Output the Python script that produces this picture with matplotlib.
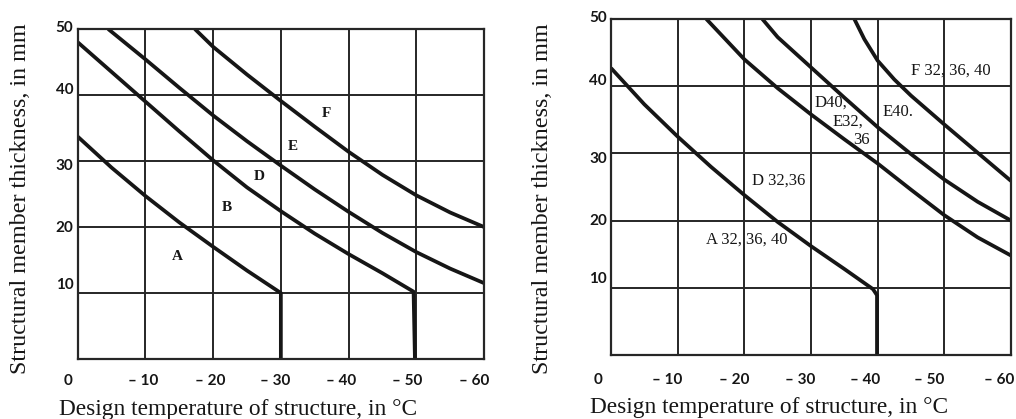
import matplotlib
matplotlib.use("Agg")
import matplotlib.pyplot as plt
from matplotlib.transforms import ScaledTranslation

# ---------------- data ----------------
x_ticks = [0, -10, -20, -30, -40, -50, -60]
x_tick_labels = ["0", "– 10", "– 20", "– 30", "– 40", "– 50", "– 60"]
y_ticks = [10, 20, 30, 40, 50]
y_tick_labels = ["10", "20", "30", "40", "50"]

# left panel curves (temperature, thickness)
left_A_x = [0, -5, -10, -15, -20, -25, -30, -30]
left_A_y = [33.7, 29.0, 24.7, 20.7, 17.0, 13.4, 10.0, 0]
left_B_x = [0, -5, -10, -15, -20, -25, -30, -35, -40, -45, -49.6, -49.8]
left_B_y = [48.0, 43.5, 39.0, 34.5, 30.1, 26.0, 22.4, 19.0, 15.9, 13.0, 10.2, 0]
left_D_x = [-4.5, -10, -15, -20, -25, -30, -35, -40, -45, -50, -55, -60]
left_D_y = [50, 45.4, 41.1, 36.9, 33.0, 29.3, 25.7, 22.3, 19.1, 16.2, 13.7, 11.5]
left_F_x = [-17.3, -20, -25, -30, -35, -40, -45, -50, -55, -60]
left_F_y = [50, 47.3, 43.1, 39.1, 35.2, 31.4, 27.9, 24.8, 22.2, 20.0]
left_labels = ["A", "B", "D", "E", "F"]
left_label_x = [-14.7, -22.0, -26.8, -31.8, -36.7]
left_label_y = [15.5, 23.0, 27.6, 32.2, 37.2]

# right panel curves
right_A_x = [0, -5, -10, -15, -20, -25, -30, -35, -39.3, -39.9, -39.9]
right_A_y = [42.7, 37.3, 32.5, 28.0, 23.8, 19.8, 16.2, 12.8, 9.8, 8.9, 0]
right_D_x = [-14.3, -20, -25, -30, -35, -40, -45, -50, -55, -60]
right_D_y = [50, 44.0, 39.7, 35.8, 32.1, 28.5, 24.6, 20.8, 17.5, 14.8]
right_E_x = [-22.7, -25, -30, -35, -40, -45, -50, -55, -60]
right_E_y = [50, 47.3, 42.8, 38.3, 33.9, 29.9, 26.1, 22.8, 20.0]
right_F_x = [-36.5, -38, -40, -42.5, -45, -50, -55, -60]
right_F_y = [50, 47.0, 43.8, 41.0, 38.6, 34.3, 30.1, 25.9]
right_labels = ["A 32, 36, 40", "D 32,36", "D40,", "E32,", "36", "E40.", "F 32, 36, 40"]
right_label_x = [-20.4, -25.2, -33.0, -35.5, -37.5, -43.0, -50.9]
right_label_y = [17.1, 26.0, 37.5, 34.7, 32.0, 36.2, 42.3]

# ---------------- style ----------------
INK = "#161616"
GRID = "#262626"
W, H = 1016, 419
fig = plt.figure(figsize=(W / 100, H / 100), dpi=100)
fig.patch.set_facecolor("white")

ax_l = fig.add_axes([77.7 / W, 1 - 359 / H, (484 - 77.7) / W, (359 - 29) / H])
ax_r = fig.add_axes([611 / W, 1 - 355 / H, (1011 - 611) / W, (355 - 19) / H])

serif = ["Liberation Serif", "DejaVu Serif"]
tickfont = ["Lato", "DejaVu Sans"]

xlab_off_l = [-10, -2, -3, -6, -7, -9, -10]
xlab_off_r = [-13, -10, -10, -11, -13, -15, -12]
ylab_off = [10, 1, -4, 7, 3]


def style_axes(ax, xoffs, xpad):
    ax.set_xlim(0, -60)
    ax.set_ylim(0, 50)
    ax.set_xticks(x_ticks)
    ax.set_xticklabels(x_tick_labels)
    ax.set_yticks(y_ticks)
    ax.set_yticklabels(y_tick_labels)
    ax.tick_params(length=0, colors=INK, labelsize=11)
    ax.tick_params(axis="x", pad=xpad)
    ax.tick_params(axis="y", pad=3.0)
    for lab, dx in zip(ax.get_xticklabels(), xoffs):
        lab.set_fontfamily(tickfont)
        lab.set_fontweight("bold")
        lab.set_transform(lab.get_transform() + ScaledTranslation(dx / 100, 0, fig.dpi_scale_trans))
    for lab, dy in zip(ax.get_yticklabels(), ylab_off):
        lab.set_fontfamily(tickfont)
        lab.set_fontweight("bold")
        lab.set_transform(lab.get_transform() + ScaledTranslation(0, dy / 100, fig.dpi_scale_trans))
    ax.grid(True, color=GRID, lw=1.4)
    ax.set_axisbelow(True)
    for s in ax.spines.values():
        s.set_color(GRID)
        s.set_linewidth(1.6)


style_axes(ax_l, xlab_off_l, 11)
style_axes(ax_r, xlab_off_r, 13)

LW = 2.7
for xs, ys in [(left_A_x, left_A_y), (left_B_x, left_B_y), (left_D_x, left_D_y), (left_F_x, left_F_y)]:
    ax_l.plot(xs, ys, color=INK, lw=LW, solid_capstyle="butt", solid_joinstyle="round")
for xs, ys in [(right_A_x, right_A_y), (right_D_x, right_D_y), (right_E_x, right_E_y), (right_F_x, right_F_y)]:
    ax_r.plot(xs, ys, color=INK, lw=LW, solid_capstyle="butt", solid_joinstyle="round")

for t, x, y in zip(left_labels, left_label_x, left_label_y):
    ax_l.text(x, y, t, ha="center", va="center", fontsize=11, fontweight="bold",
              family=serif, color=INK)
for t, x, y in zip(right_labels, right_label_x, right_label_y):
    ax_r.text(x, y, t, ha="center", va="center", fontsize=12, family=serif, color=INK)

# axis titles
YT = "Structural member thickness, in mm"
XT = "Design temperature of structure, in °C"
fig.text(21 / W, 1 - 199 / H, YT, rotation=90,
         ha="center", va="center", fontsize=17.4, family=serif, color=INK)
fig.text(543 / W, 1 - 199 / H, YT, rotation=90,
         ha="center", va="center", fontsize=17.4, family=serif, color=INK)
fig.text(238.5 / W, 4 / H, XT,
         ha="center", va="baseline", fontsize=16.8, family=serif, color=INK)
fig.text(769 / W, 6 / H, XT,
         ha="center", va="baseline", fontsize=16.8, family=serif, color=INK)

fig.savefig("out.png", dpi=100, facecolor="white")
